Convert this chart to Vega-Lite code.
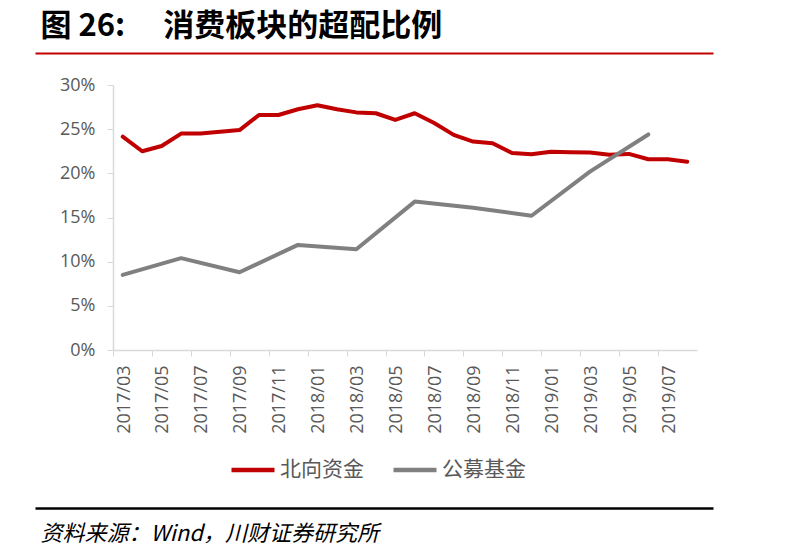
{
  "$schema": "https://vega.github.io/schema/vega-lite/v6.json",
  "autosize": {"type": "none"},
  "padding": {"left": 113, "top": 85, "right": 88, "bottom": 202},
  "width": 584,
  "height": 265,
  "background": "white",
  "config": {
    "view": {"stroke": null},
    "font": "Noto Sans CJK SC"
  },
  "data": {
    "values": [
      {"month": "2017/03", "series": "北向资金", "value": 0.2415},
      {"month": "2017/04", "series": "北向资金", "value": 0.225},
      {"month": "2017/05", "series": "北向资金", "value": 0.231},
      {"month": "2017/06", "series": "北向资金", "value": 0.245},
      {"month": "2017/07", "series": "北向资金", "value": 0.245},
      {"month": "2017/08", "series": "北向资金", "value": 0.247},
      {"month": "2017/09", "series": "北向资金", "value": 0.249},
      {"month": "2017/10", "series": "北向资金", "value": 0.266},
      {"month": "2017/11", "series": "北向资金", "value": 0.266},
      {"month": "2017/12", "series": "北向资金", "value": 0.2725},
      {"month": "2018/01", "series": "北向资金", "value": 0.277},
      {"month": "2018/02", "series": "北向资金", "value": 0.2725},
      {"month": "2018/03", "series": "北向资金", "value": 0.269},
      {"month": "2018/04", "series": "北向资金", "value": 0.268},
      {"month": "2018/05", "series": "北向资金", "value": 0.2605},
      {"month": "2018/06", "series": "北向资金", "value": 0.268},
      {"month": "2018/07", "series": "北向资金", "value": 0.257},
      {"month": "2018/08", "series": "北向资金", "value": 0.2435},
      {"month": "2018/09", "series": "北向资金", "value": 0.236},
      {"month": "2018/10", "series": "北向资金", "value": 0.234},
      {"month": "2018/11", "series": "北向资金", "value": 0.223},
      {"month": "2018/12", "series": "北向资金", "value": 0.2215},
      {"month": "2019/01", "series": "北向资金", "value": 0.2245},
      {"month": "2019/02", "series": "北向资金", "value": 0.224},
      {"month": "2019/03", "series": "北向资金", "value": 0.2235},
      {"month": "2019/04", "series": "北向资金", "value": 0.221},
      {"month": "2019/05", "series": "北向资金", "value": 0.222},
      {"month": "2019/06", "series": "北向资金", "value": 0.216},
      {"month": "2019/07", "series": "北向资金", "value": 0.216},
      {"month": "2019/08", "series": "北向资金", "value": 0.213},
      {"month": "2017/03", "series": "公募基金", "value": 0.085},
      {"month": "2017/06", "series": "公募基金", "value": 0.104},
      {"month": "2017/09", "series": "公募基金", "value": 0.088},
      {"month": "2017/12", "series": "公募基金", "value": 0.119},
      {"month": "2018/03", "series": "公募基金", "value": 0.114},
      {"month": "2018/06", "series": "公募基金", "value": 0.168},
      {"month": "2018/09", "series": "公募基金", "value": 0.161},
      {"month": "2018/12", "series": "公募基金", "value": 0.152},
      {"month": "2019/03", "series": "公募基金", "value": 0.202},
      {"month": "2019/06", "series": "公募基金", "value": 0.244}
    ]
  },
  "resolve": {"scale": {"x": "independent"}, "axis": {"x": "independent"}},
  "layer": [
    {
      "mark": {"type": "line", "strokeWidth": 4, "strokeJoin": "round", "strokeCap": "round"},
      "encoding": {
        "x": {
          "field": "month",
          "type": "ordinal",
          "scale": {"type": "point", "padding": 0.5},
          "axis": {
            "orient": "bottom",
            "title": null,
            "values": ["2017/03","2017/05","2017/07","2017/09","2017/11","2018/01","2018/03","2018/05","2018/07","2018/09","2018/11","2019/01","2019/03","2019/05","2019/07"],
            "labelAngle": -90,
            "labelFont": "Open Sans",
            "labelFontSize": 18,
            "labelColor": "#595959",
            "labelPadding": 9,
            "tickOffset": -9.733,
            "labelOffset": 11,
            "tickSize": 6,
            "tickColor": "#D9D9D9",
            "domainColor": "#D9D9D9",
            "domainWidth": 1.5,
            "grid": false
          }
        },
        "y": {
          "field": "value",
          "type": "quantitative",
          "scale": {"domain": [0, 0.3], "nice": false},
          "axis": {
            "title": null,
            "values": [0, 0.05, 0.1, 0.15, 0.2, 0.25, 0.3],
            "format": ".0%",
            "labelFont": "Open Sans",
            "labelFontSize": 18,
            "labelColor": "#595959",
            "labelPadding": 12,
            "tickSize": 6,
            "tickColor": "#D9D9D9",
            "domainColor": "#D9D9D9",
            "domainWidth": 1.5,
            "grid": false
          }
        },
        "color": {
          "field": "series",
          "type": "nominal",
          "scale": {"domain": ["北向资金", "公募基金"], "range": ["#C00000", "#808080"]},
          "legend": {
            "title": null,
            "orient": "none",
            "legendX": 116,
            "legendY": 361,
            "direction": "horizontal",
            "symbolType": "stroke",
            "symbolSize": 1849,
            "symbolStrokeWidth": 4.5,
            "labelFont": "Noto Sans CJK SC",
            "labelFontSize": 21,
            "labelColor": "#595959",
            "labelOffset": 3,
            "columnPadding": 20
          }
        }
      }
    },
    {
      "transform": [{"filter": "false"}],
      "mark": {"type": "point", "opacity": 0},
      "encoding": {
        "x": {
          "field": "value",
          "type": "quantitative",
          "scale": {"domain": [0, 1], "range": [-78, 600]},
          "axis": {
            "orient": "top",
            "offset": 32,
            "domainColor": "#C00000",
            "domainWidth": 2,
            "ticks": false,
            "labels": false,
            "grid": false,
            "title": "图 26:\u3000\u00a0消费板块的超配比例",
            "titleAnchor": "start",
            "titleX": -73,
            "titleFont": "Noto Sans CJK SC",
            "titleFontSize": 31,
            "titleFontWeight": "bold",
            "titleColor": "#000000",
            "titlePadding": 11
          }
        }
      }
    },
    {
      "transform": [{"filter": "false"}],
      "mark": {"type": "point", "opacity": 0},
      "encoding": {
        "x": {
          "field": "value",
          "type": "quantitative",
          "scale": {"domain": [0, 1], "range": [-78, 600]},
          "axis": {
            "orient": "bottom",
            "offset": 158,
            "domainColor": "#000000",
            "domainWidth": 2.5,
            "ticks": false,
            "labels": false,
            "grid": false,
            "title": "资料来源：Wind，川财证券研究所",
            "titleAnchor": "start",
            "titleX": -73,
            "titleFont": "Noto Sans CJK SC",
            "titleFontSize": 22,
            "titleFontWeight": "normal",
            "titleFontStyle": "italic",
            "titleColor": "#000000",
            "titlePadding": 15
          }
        }
      }
    }
  ]
}
